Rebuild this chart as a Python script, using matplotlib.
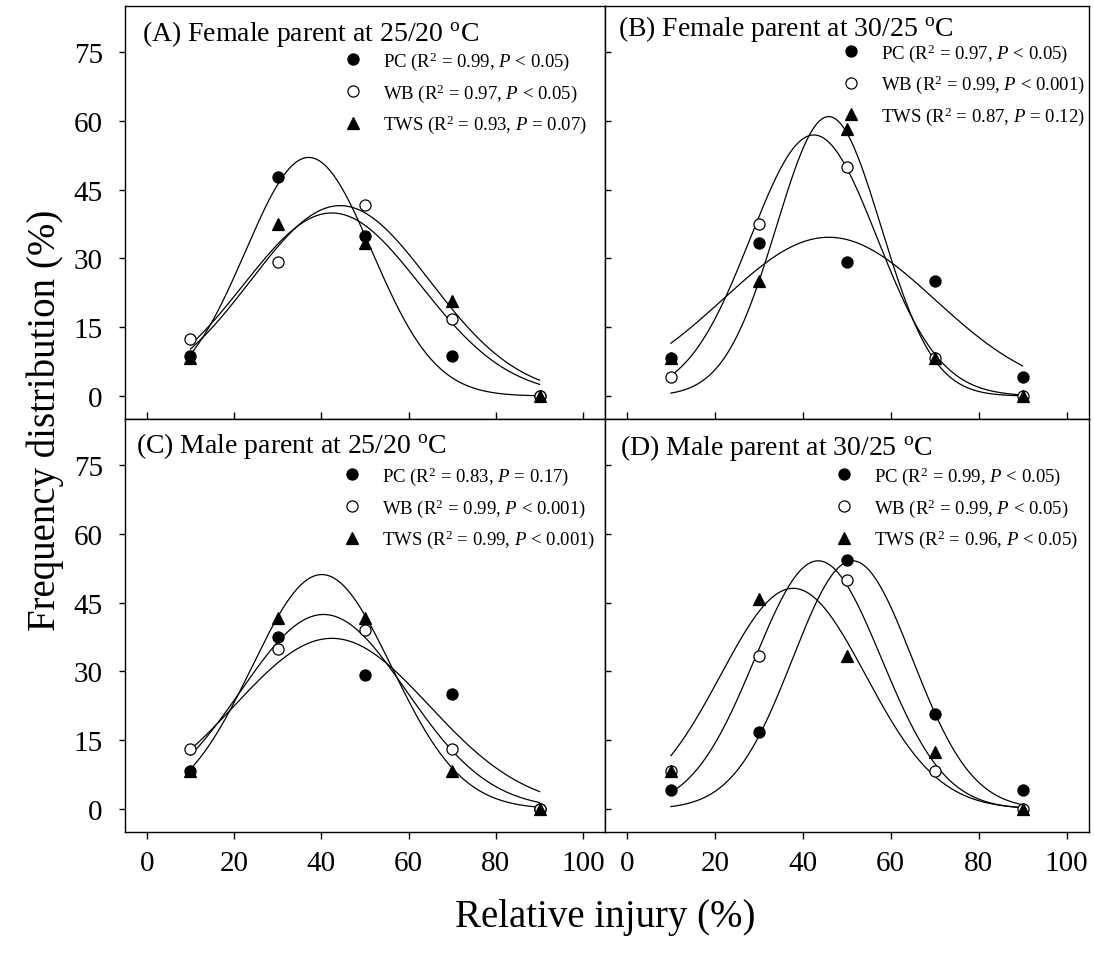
import numpy as np
import matplotlib
matplotlib.use('Agg')
import matplotlib.pyplot as plt
from matplotlib.lines import Line2D

plt.rcParams['font.family'] = ['Liberation Serif', 'DejaVu Serif']
plt.rcParams['mathtext.fontset'] = 'custom'
plt.rcParams['mathtext.rm'] = 'Liberation Serif'
plt.rcParams['mathtext.it'] = 'Liberation Serif:italic'
plt.rcParams['mathtext.bf'] = 'Liberation Serif:bold'

# ---------------- data ----------------
x_injury = [10, 30, 50, 70, 90]

A_pc = [8.7, 47.8, 34.8, 8.7, 0.0]
A_wb = [12.5, 29.2, 41.7, 16.7, 0.0]
A_tws = [8.3, 37.5, 33.3, 20.8, 0.0]

B_pc = [8.3, 33.3, 29.2, 25.0, 4.2]
B_wb = [4.2, 37.5, 50.0, 8.3, 0.0]
B_tws = [8.3, 25.0, 58.3, 8.3, 0.0]

C_pc = [8.3, 37.5, 29.2, 25.0, 0.0]
C_wb = [13.0, 34.8, 39.1, 13.0, 0.0]
C_tws = [8.3, 41.7, 41.7, 8.3, 0.0]

D_pc = [4.2, 16.7, 54.2, 20.8, 4.2]
D_wb = [8.3, 33.3, 50.0, 8.3, 0.0]
D_tws = [8.3, 45.8, 33.3, 12.5, 0.0]

# Gaussian fit parameters (order: PC, WB, TWS)
A_fit_amp = [52.0, 41.5, 39.9]
A_fit_mu = [37.1, 44.3, 42.4]
A_fit_sd = [14.5, 20.5, 20.3]

B_fit_amp = [34.6, 56.9, 60.9]
B_fit_mu = [45.9, 42.5, 45.9]
B_fit_sd = [24.2, 14.4, 11.9]

C_fit_amp = [37.2, 42.4, 51.1]
C_fit_mu = [42.4, 40.5, 40.1]
C_fit_sd = [22.3, 19.0, 16.0]

D_fit_amp = [54.1, 54.1, 48.1]
D_fit_mu = [51.3, 43.5, 37.8]
D_fit_sd = [13.6, 14.4, 16.5]

A_labels = [r'PC (R$^2$ = 0.99, $P$ < 0.05)', r'WB (R$^2$ = 0.97, $P$ < 0.05)', r'TWS (R$^2$ = 0.93, $P$ = 0.07)']
B_labels = [r'PC (R$^2$ = 0.97, $P$ < 0.05)', r'WB (R$^2$ = 0.99, $P$ < 0.001)', r'TWS (R$^2$ = 0.87, $P$ = 0.12)']
C_labels = [r'PC (R$^2$ = 0.83, $P$ = 0.17)', r'WB (R$^2$ = 0.99, $P$ < 0.001)', r'TWS (R$^2$ = 0.99, $P$ < 0.001)']
D_labels = [r'PC (R$^2$ = 0.99, $P$ < 0.05)', r'WB (R$^2$ = 0.99, $P$ < 0.05)', r'TWS (R$^2$ = 0.96, $P$ < 0.05)']

titles = [r'(A) Female parent at 25/20 $^{\mathrm{o}}$C',
          r'(B) Female parent at 30/25 $^{\mathrm{o}}$C',
          r'(C) Male parent at 25/20 $^{\mathrm{o}}$C',
          r'(D) Male parent at 30/25 $^{\mathrm{o}}$C']

x_ticks = [0, 20, 40, 60, 80, 100]
y_ticks = [0, 15, 30, 45, 60, 75]

# ---------------- figure ----------------
W, H = 1094, 954
fig = plt.figure(figsize=(W / 100, H / 100), dpi=100)

def fr(l, t, r, b):
    return [l / W, 1 - b / H, (r - l) / W, (b - t) / H]

axA = fig.add_axes(fr(125, 7, 605, 420))
axB = fig.add_axes(fr(605, 7, 1088.5, 420))
axC = fig.add_axes(fr(125, 420, 605, 833))
axD = fig.add_axes(fr(605, 420, 1088.5, 833))

panels = [
    (axA, [A_pc, A_wb, A_tws], (A_fit_amp, A_fit_mu, A_fit_sd), A_labels, titles[0],
     (0.035, 0.918), (0.455, 0.895)),
    (axB, [B_pc, B_wb, B_tws], (B_fit_amp, B_fit_mu, B_fit_sd), B_labels, titles[1],
     (0.027, 0.930), (0.489, 0.915)),
    (axC, [C_pc, C_wb, C_tws], (C_fit_amp, C_fit_mu, C_fit_sd), C_labels, titles[2],
     (0.023, 0.919), (0.453, 0.890)),
    (axD, [D_pc, D_wb, D_tws], (D_fit_amp, D_fit_mu, D_fit_sd), D_labels, titles[3],
     (0.031, 0.915), (0.475, 0.890)),
]

styles = [dict(marker='o', mfc='black', mec='black'),
          dict(marker='o', mfc='white', mec='black'),
          dict(marker='^', mfc='black', mec='black')]
ms = 8.0

xc = np.linspace(min(x_injury), max(x_injury), 300)

for i, (ax, series, fit, labels, title, tpos, lpos) in enumerate(panels):
    amp, mu, sd = fit
    for k in range(3):
        yc = amp[k] * np.exp(-0.5 * ((xc - mu[k]) / sd[k]) ** 2)
        ax.plot(xc, yc, color='black', lw=0.9, zorder=2)
    handles = []
    for k in range(3):
        ax.plot(x_injury, series[k], linestyle='none', ms=ms, mew=0.9, zorder=3, **styles[k])
        handles.append(Line2D([], [], linestyle='none', ms=ms, mew=0.9, **styles[k]))
    ax.set_xlim(-5, 105)
    ax.set_ylim(-5, 85)
    ax.set_xticks(x_ticks)
    ax.set_yticks(y_ticks)
    for sp in ax.spines.values():
        sp.set_linewidth(1.0)
    left = i in (0, 2)
    bottom = i in (2, 3)
    ax.tick_params(axis='x', direction='out' if bottom else 'in', length=5, width=1.0,
                   labelsize=21, pad=8, labelbottom=bottom)
    ax.tick_params(axis='y', direction='out' if left else 'in', length=4, width=1.0,
                   labelsize=21, pad=12, labelleft=left)
    ax.text(tpos[0], tpos[1], title, transform=ax.transAxes, fontsize=20,
            ha='left', va='baseline')
    leg = ax.legend(handles, labels, loc='upper left', bbox_to_anchor=lpos,
                    frameon=False, fontsize=13.5, handlelength=1.0, handletextpad=1.1,
                    labelspacing=0.49, borderpad=0, borderaxespad=0)

fig.text(605 / W, 1 - 927 / H, 'Relative injury (%)', fontsize=28, ha='center', va='baseline')
fig.text(45 / W, 1 - 420 / H, 'Frequency distribution (%)', fontsize=28, ha='center',
         va='center', rotation=90)

fig.savefig('out.png', dpi=100)
